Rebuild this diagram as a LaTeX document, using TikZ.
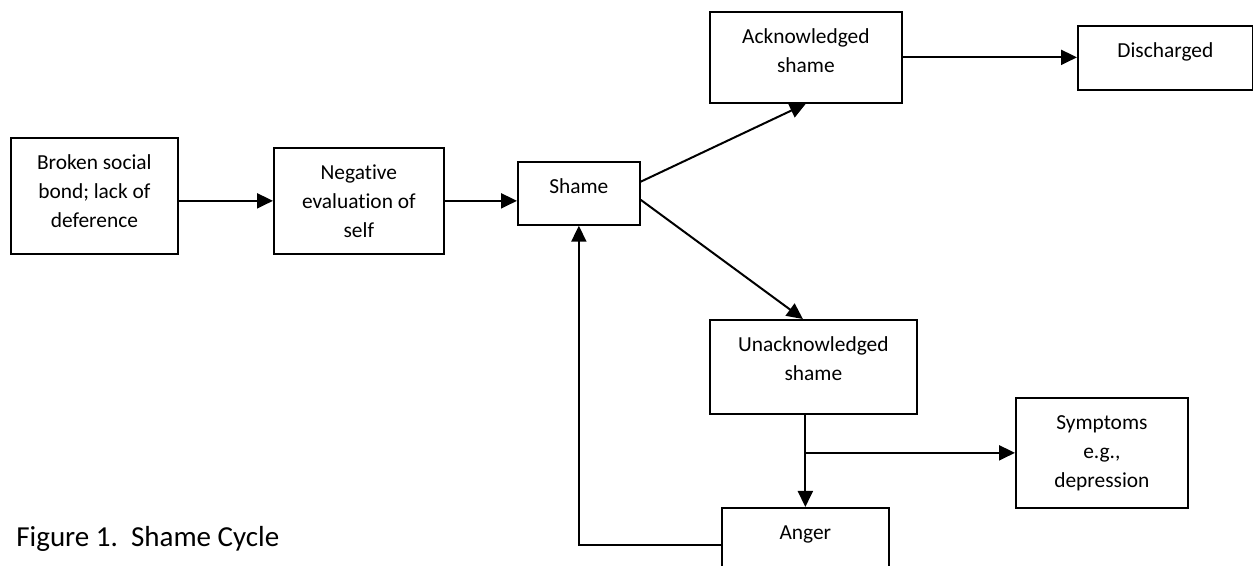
\documentclass[tikz,border=0pt]{standalone}
\usepackage{fontspec}
\setmainfont{Carlito}[Ligatures={CommonOff,ContextualOff}]
\usetikzlibrary{arrows.meta,calc}
\tikzset{
	stage/.style={draw, line width=0.3mm, inner sep=0pt, align=flush center, text height=16pt, anchor=north west, font=\fontsize{10.7}{14.5}\selectfont},
	flow/.style={line width=0.35mm, -{Triangle[length=8pt,width=7.5pt]}}
}

\begin{document}
\begin{tikzpicture}[x=0.5pt, y=-0.5pt]
		%%%%% START %%%%%
		
		\useasboundingbox (0, 0) rectangle (1253, 566);
		\clip (0, 0) rectangle (1253, 566);
		
		\node[stage, text width=83.5pt, text depth=42pt] (broken) at (10, 137) {Broken social\\bond; lack of\\deference};
		\node[stage, text width=85pt, text depth=37pt] (negative) at (273, 147) {Negative\\evaluation of\\self};
		\node[stage, text width=61pt, text depth=15.5pt] (shame) at (517, 161) {Shame};
		
		\node[stage, text width=96pt, text depth=29.5pt] (ack) at (709, 11) {Acknowledged\\shame};
		\node[stage, text width=87.5pt, text depth=16pt] (disch) at (1077, 25) {Discharged};
		
		\node[stage, text width=103.5pt, text depth=31pt] (unack) at (709, 319) {Unacknowledged\\shame};
		\node[stage, text width=86pt, text depth=39pt] (sympt) at (1015, 397) {Symptoms\\e.g.,\\depression};
		\node[stage, text width=83.5pt, text depth=21pt] (anger) at (721, 507) {Anger};
		
		\draw[flow] (broken.east |- negative.west) -- (negative.west);
		\draw[flow] (negative.east) -- (negative.east -| shame.west);
		
		\draw[flow] ($(shame.north east)!0.32!(shame.south east)$) -- (ack.south);
		\draw[flow] (ack.east) -- (ack.east -| disch.west);
		\draw[flow] ($(shame.north east)!0.6!(shame.south east)$) -- ($(unack.north west)!0.45!(unack.north east)$);
		
		\draw[flow] (anger.north |- unack.south) -- (anger.north);
		\coordinate (fork) at (anger.north |- sympt.west);
		\draw[flow] (fork) -- (sympt.west);
		
		\draw[flow] (anger.west) -| (shame.south);
		
		\node[anchor=base west, inner sep=0pt, font=\fontsize{14.5}{17}\selectfont] (caption) at (16, 546) {Figure 1.\ \ Shame Cycle};
		
		%%%%% END %%%%%
	\end{tikzpicture}
\end{document}
